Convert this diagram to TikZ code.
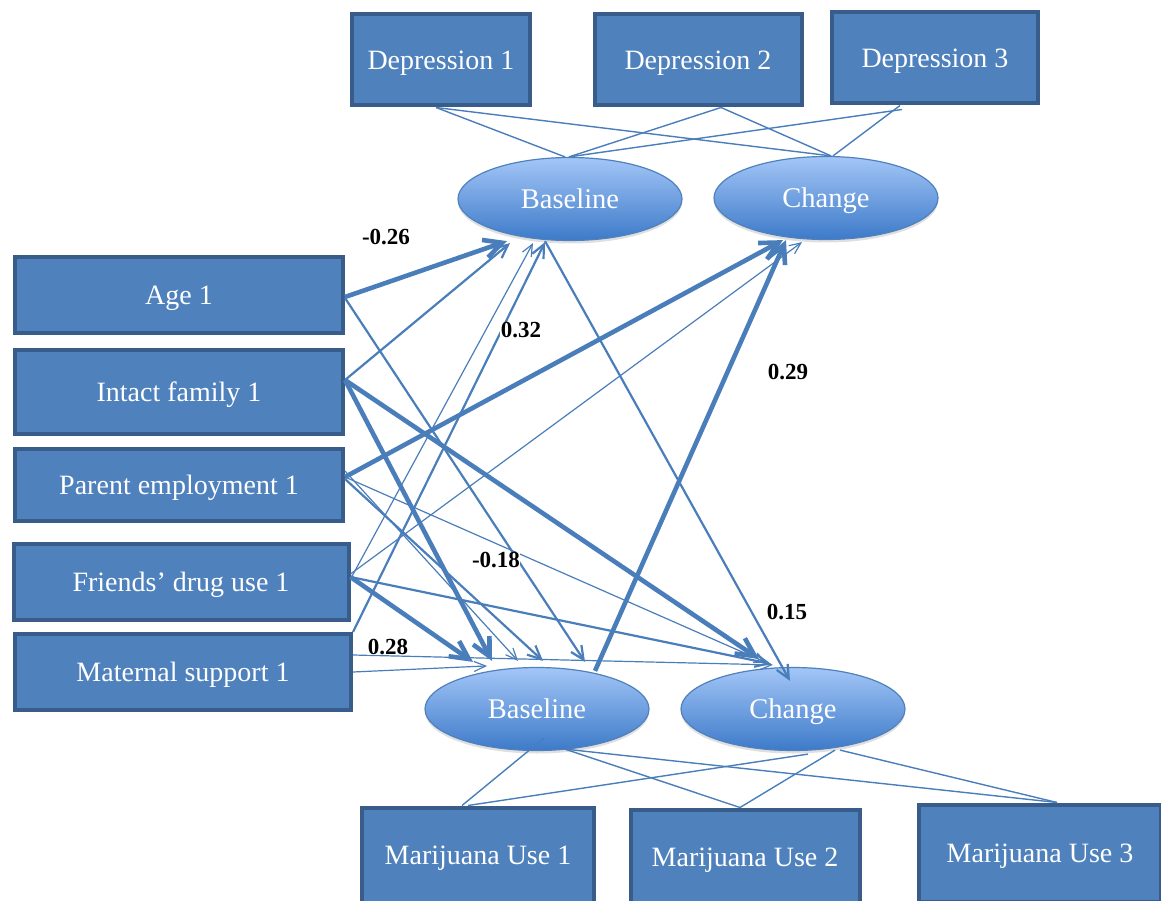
\documentclass[tikz,border=0pt]{standalone}
\usepackage{fontspec}
\setmainfont{Liberation Serif}
\usepackage{tikz}
\usetikzlibrary{shapes.geometric}
\usetikzlibrary{calc}
\usetikzlibrary{arrows.meta}
\usetikzlibrary{shadows}
\definecolor{boxfill}{HTML}{4F81BD}
\definecolor{boxline}{HTML}{385D8A}
\definecolor{pathblue}{HTML}{4A7EBB}
\definecolor{ovaltop}{HTML}{A3C6F7}
\definecolor{ovalbot}{HTML}{3D7AC9}
\tikzset{measure/.style={rectangle, fill=boxfill, draw=boxline, line width=4pt, text=white, inner sep=0pt, text depth=0pt, font=\fontsize{28}{32}\selectfont}}
\tikzset{latent/.style={ellipse, draw=boxfill, line width=1.2pt, top color=ovaltop, bottom color=ovalbot, text=white, inner sep=0pt, text depth=0pt, minimum width=224pt, minimum height=83pt, font=\fontsize{28.5}{32}\selectfont, drop shadow={opacity=0.25, shadow xshift=0pt, shadow yshift=-3pt}}}
\tikzset{coef/.style={fill=white, inner sep=0.5pt, font=\fontsize{23}{26}\selectfont\bfseries}}
\tikzset{loading/.style={pathblue, line width=1.4pt}}
\tikzset{>={Straight Barb[length=9pt 2, width=7pt 2.5]}}
\tikzset{thinpath/.style={->, pathblue, line width=1.2pt}}
\tikzset{midpath/.style={->, pathblue, line width=2.2pt}}
\tikzset{thickpath/.style={->, pathblue, line width=4.6pt}}

\begin{document}
\begin{tikzpicture}[x=1pt, y=-1pt]
		\useasboundingbox (0,0) rectangle (1161,901);
		\clip (0,0) rectangle (1161,901);
		% indicators
		\node[measure, minimum width=178pt, minimum height=91pt] (dep1) at (441,60) {Depression 1};
		\node[measure, minimum width=207pt, minimum height=91pt] (dep2) at (698,60) {Depression 2};
		\node[measure, minimum width=206pt, minimum height=91pt] (dep3) at (935,58) {Depression 3};
		\node[measure, minimum width=232pt, minimum height=95pt] (mj1) at (478,855) {Marijuana Use 1};
		\node[measure, minimum width=229pt, minimum height=95pt] (mj2) at (745,857) {Marijuana Use 2};
		\node[measure, minimum width=242pt, minimum height=97pt] (mj3) at (1040,853) {Marijuana Use 3};
		% predictors
		\node[measure, minimum width=328pt, minimum height=76pt] (age) at (179,295) {Age 1};
		\node[measure, minimum width=328pt, minimum height=84pt] (intact) at (179,392) {Intact family 1};
		\node[measure, minimum width=328pt, minimum height=72pt] (parent) at (179,485) {Parent employment 1};
		\node[measure, minimum width=335pt, minimum height=76pt] (friends) at (181,582) {Friends’ drug use 1};
		\node[measure, minimum width=336pt, minimum height=76pt] (mat) at (183,672) {Maternal support 1};
		% growth factors
		\node[latent] (db) at (570,199) {Baseline};
		\node[latent] (dc) at (826,198) {Change};
		\node[latent] (mb) at (537,709) {Baseline};
		\node[latent] (mc) at (793,709) {Change};
		% loadings
		\path [loading] ([xshift=-5pt]dep1.south) edge ([xshift=-5pt]db.north);
		\path [loading] ([xshift=-5pt]dep1.south) edge ([xshift=5pt]dc.north);
		\path [loading] ([xshift=23pt]dep2.south) edge ([xshift=-1pt]db.north);
		\path [loading] ([xshift=23pt]dep2.south) edge ([xshift=5pt]dc.north);
		\path [loading] ([xshift=-33pt,yshift=-4pt]dep3.south) edge ([xshift=-1pt]db.north);
		\path [loading] ([xshift=-35pt]dep3.south) edge ([xshift=7pt]dc.north);
		\path [loading] ([xshift=7pt,yshift=13pt]mb.south) edge ([xshift=-16pt]mj1.north);
		\path [loading] ([xshift=28pt,yshift=2pt]mb.south) edge ([xshift=-5pt]mj2.north);
		\path [loading] ([xshift=28pt,yshift=2pt]mb.south) edge ([xshift=17pt]mj3.north);
		\path [loading] ([xshift=15pt,yshift=-3pt]mc.south) edge ([xshift=-10pt]mj1.north);
		\path [loading] ([xshift=42pt,yshift=1pt]mc.south) edge ([xshift=-5pt]mj2.north);
		\path [loading] ([xshift=47pt,yshift=1pt]mc.south) edge ([xshift=17pt]mj3.north);
		% paths to depression
		\path [thickpath] ([yshift=-2pt]age.east) edge ([xshift=-63pt]db.south);
		\path [midpath] ([yshift=12pt]intact.east) edge ([xshift=-60pt,yshift=-2pt]db.south);
		\path [thinpath] ([yshift=3pt]friends.east) edge ([xshift=-37pt,yshift=-2pt]db.south);
		\path [midpath] (mat.north east) edge ([xshift=-25pt,yshift=-1pt]db.south);
		\path [thickpath] ([yshift=8pt]parent.east) edge ([xshift=-43pt]dc.south);
		\path [thinpath] ([yshift=8pt]friends.east) edge ([xshift=-24pt,yshift=-2pt]dc.south);
		\path [thickpath] ([xshift=58pt,yshift=-4pt]mb.north) edge ([xshift=-40pt]dc.south);
		% paths to marijuana use
		\path [thickpath] ([yshift=5pt]friends.east) edge ([xshift=-64pt,yshift=5pt]mb.north);
		\path [thickpath] ([yshift=12pt]intact.east) edge ([xshift=-45pt,yshift=6pt]mb.north);
		\path [thinpath] ([yshift=14pt]parent.east) edge ([xshift=-19pt,yshift=6pt]mb.north);
		\path [midpath] ([yshift=6pt]parent.east) edge ([xshift=6pt,yshift=6pt]mb.north);
		\path [midpath] ([yshift=-3pt]age.east) edge ([xshift=48pt,yshift=5pt]mb.north);
		\path [thinpath] (mat.east) edge ([xshift=-50pt,yshift=1pt]mb.north);
		\path [thickpath] ([yshift=12pt]intact.east) edge ([xshift=-34pt,yshift=8pt]mc.north);
		\path [thinpath] ([yshift=8pt]parent.east) edge ([xshift=-26pt,yshift=4pt]mc.north);
		\path [midpath] ([yshift=5pt]friends.east) edge ([xshift=-22pt,yshift=3pt]mc.north);
		\path [thinpath] ([yshift=17pt]mat.east) edge ([xshift=-20pt,yshift=2pt]mc.north);
		\path [midpath] ([xshift=-25pt]db.south) edge ([xshift=-3pt,yshift=-14pt]mc.north);
		% coefficients
		\node[coef] (c1) at (386,237) {-0.26};
		\node[coef] (c2) at (521,330) {0.32};
		\node[coef] (c3) at (788,372) {0.29};
		\node[coef] (c4) at (496,560) {-0.18};
		\node[coef] (c5) at (787,612) {0.15};
		\node[coef] (c6) at (388,647) {0.28};
\end{tikzpicture}
\end{document}
